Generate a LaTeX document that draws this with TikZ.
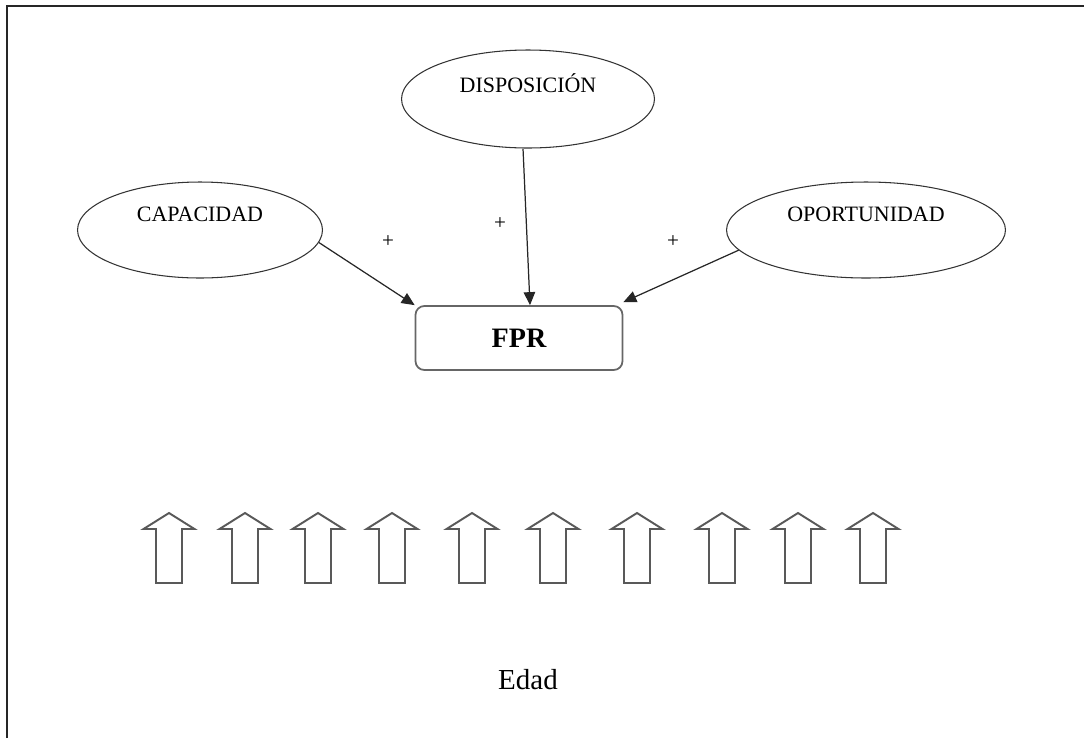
\documentclass[tikz,border=0pt]{standalone}
\usepackage{fontspec}
\setmainfont{Liberation Serif}
\usepackage{tikz}
\usetikzlibrary{shapes}
\usetikzlibrary{calc}
\usetikzlibrary{arrows.meta}
\tikzset{ factor_var/.style = {ellipse, draw=black!80, line width=0.6pt, minimum width=#1, minimum height=1.92cm, inner sep=0pt} }
\tikzset{ result_var/.style = {rectangle, rounded corners=5pt, draw=black!60, line width=1pt, minimum width=4.14cm, minimum height=1.28cm, font=\fontsize{16}{18}\selectfont\bfseries} }
\tikzset{ plus_sign/.style = {font=\fontsize{12}{14}\selectfont, inner sep=0pt} }
\tikzset{ influence/.style = {-{Triangle[length=2.6mm,width=2.3mm]}, line width=0.7pt, draw=black!85} }
\tikzset{ age_arrow/.style = {draw=black!65, line width=1.1pt, line join=miter} }

\begin{document}
\begin{tikzpicture}[x=0.02cm, y=-0.02cm, font=\fontsize{12.5}{15}\selectfont]
    \useasboundingbox (0,0) rectangle (1084,738);
    % frame (only top and left edges visible)
    \draw[line width=1.3pt, black!85] (7,738) -- (7,6) -- (1084,6);

    \node[factor_var=4.9cm, label={[yshift=0.32cm]center:CAPACIDAD}] (cap) at (200,230) {};
    \node[factor_var=5.06cm, minimum height=1.96cm, label={[yshift=0.32cm]center:DISPOSICIÓN}] (dis) at (528,99) {};
    \node[factor_var=5.58cm, label={[yshift=0.32cm]center:OPORTUNIDAD}] (opo) at (866,230) {};
    \node[result_var] (fpr) at (519,338) {FPR};

    \node[plus_sign] (p1) at (388,242) {+};
    \node[plus_sign] (p2) at (500,224) {+};
    \node[plus_sign] (p3) at (673,242) {+};

    \draw[influence] (cap.-6) -- (fpr.north west);
    \draw[influence] ([xshift=-0.1cm]dis.south) -- ([xshift=0.22cm]fpr.north);
    \draw[influence] (opo.189) -- ([yshift=0.06cm]fpr.north east);

    % age arrows
    \foreach \x in {169,245,318,392,472,553,637,722,798,873} {
        \draw[age_arrow] (\x,513) -- (\x+25.5,529) -- (\x+13,529) -- (\x+13,583)
            -- (\x-13,583) -- (\x-13,529) -- (\x-25.5,529) -- cycle;
    }

    \node[font=\fontsize{16.5}{20}\selectfont] (edad) at (528,680) {Edad};
\end{tikzpicture}
\end{document}
